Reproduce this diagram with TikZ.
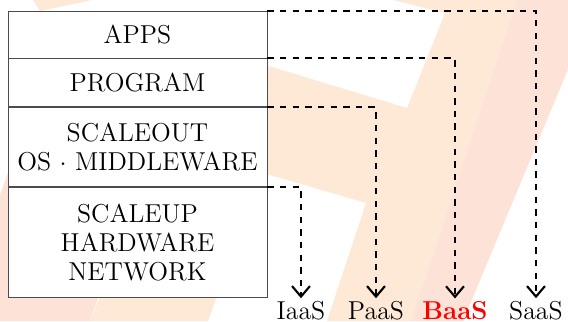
\documentclass[tikz,border=0pt]{standalone}
\usepackage{amsmath}
\usepackage{tikz}
\usepackage{xcolor}
\usetikzlibrary{positioning,arrows.meta}
\definecolor{logo-peach}{RGB}{254,233,215}
\definecolor{logo-pink}{RGB}{253,226,216}
\tikzset{
    layer-box/.style = {draw=black!70, fill=white, thin, rectangle, minimum width=259*0.475pt, inner sep=0pt, align=center, font=\fontsize{12.3}{14}\selectfont},
    service-label/.style = {inner sep=1pt, font=\fontsize{12.3}{14}\selectfont},
    service-link/.style = {draw, line width=1pt, dashed, -{Straight Barb[length=5pt,width=8.5pt]}},
}

\begin{document}
\begin{tikzpicture}[x=0.475pt, y=-0.475pt]
\useasboundingbox (0,0) rectangle (568,321);
\fill[logo-peach] (393,0) -- (517,0) -- (411,321) -- (327,321) -- (366,203) -- (150,140) -- (150,30) -- (407,108) -- (445,13) -- cycle;
\fill[logo-pink] (517,0) -- (597,0) -- (463,321) -- (411,321) -- cycle;
\fill[logo-peach] (90,321) -- (208,321) -- (260,180) -- (160,150) -- cycle;
\fill[logo-pink] (16,150) -- (150,150) -- (90,321) -- (0,321) -- (0,195) -- cycle;
\fill[logo-peach] (33,0) -- (92,0) -- (40,11) -- cycle;

\node [layer-box, minimum height=47*0.475pt] (apps) at (137.5,34.5) {APPS};
\node [layer-box, minimum height=48*0.475pt, below=0pt of apps] (program) {PROGRAM};
\node [layer-box, minimum height=79*0.475pt, below=0pt of program] (scaleout) {SCALEOUT\\OS $\cdot$ MIDDLEWARE};
\node [layer-box, minimum height=110*0.475pt, below=0pt of scaleout] (scaleup) {SCALEUP\\HARDWARE\\NETWORK};

\node [service-label, anchor=base] (iaas) at (301,319) {IaaS};
\node [service-label, anchor=base] (paas) at (376,319) {PaaS};
\node [service-label, anchor=base, text=red, font=\fontsize{12.3}{14}\selectfont\bfseries] (baas) at (455,319) {BaaS};
\node [service-label, anchor=base] (saas) at (536,319) {SaaS};

\draw [service-link] (scaleup.north east) -| (iaas);
\draw [service-link] (scaleout.north east) -| (paas);
\draw [service-link] (program.north east) -| (baas);
\draw [service-link] (apps.north east) -| (saas);
\end{tikzpicture}
\end{document}
